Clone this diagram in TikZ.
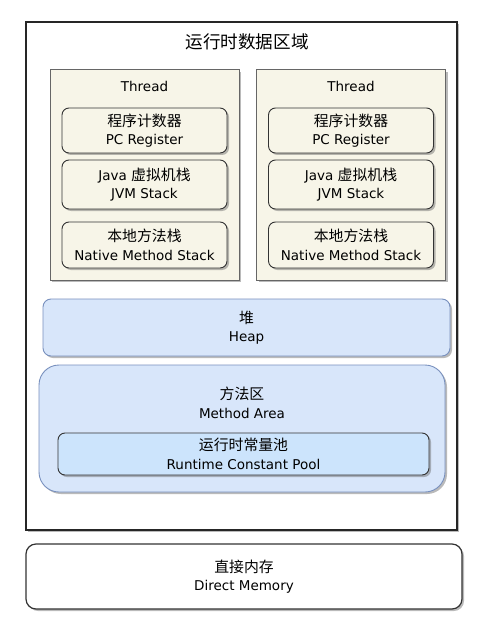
\documentclass[tikz,border=0pt]{standalone}
\usepackage{fontspec}
\setmainfont{DejaVu Sans}
\newfontfamily\cjkfont{Noto Sans CJK SC}[Scale=1.1]
\newcommand\zh[1]{{\cjkfont #1}}
\usetikzlibrary{shadows}

\definecolor{cream}{HTML}{F7F5E8}
\definecolor{heapfill}{HTML}{D8E6FA}
\definecolor{heapline}{HTML}{7890BE}
\definecolor{poolfill}{HTML}{CCE4FC}

\begin{document}
\begin{tikzpicture}[x=1pt, y=-1pt,
    shade/.style={drop shadow={shadow xshift=2pt, shadow yshift=-2pt, opacity=0.45, fill=black!60}},
    area/.style={draw=black!85, line width=1.4pt, fill=white, shade},
    threadbox/.style={draw=black!60, line width=1pt, fill=cream, shade},
    part/.style={draw=black!80, line width=0.9pt, fill=cream, rounded corners=7pt,
                 align=center, font=\fontsize{13.5}{18.5}\selectfont, inner sep=0pt, shade},
    blue/.style={draw=heapline, line width=0.9pt, fill=heapfill, align=center,
                 font=\fontsize{13.5}{18.5}\selectfont, inner sep=0pt, shade},
    label/.style={font=\fontsize{13.5}{18.5}\selectfont, align=center}]
  \useasboundingbox (0,0) rectangle (496,636);

  % runtime data area
  \node[area, minimum width=431pt, minimum height=508pt] (runtime) at (241.5,276) {};
  \node[font=\fontsize{16}{19}\selectfont] (title) at (247,42) {\zh{运行时数据区域}};

  % the two threads
  \foreach \t/\x in {A/144.5, B/351} {
    \node[threadbox, minimum width=189pt, minimum height=210pt] (thread\t) at (\x,175) {};
    \node[label] (name\t) at (\x,86) {Thread};
    \node[part, minimum width=165pt, minimum height=45pt] (pc\t) at (\x,130.5)
      {\zh{程序计数器}\\PC Register};
    \node[part, minimum width=165pt, minimum height=49pt] (jvm\t) at (\x,184.5)
      {Java \zh{虚拟机栈}\\JVM Stack};
    \node[part, minimum width=165pt, minimum height=46pt] (native\t) at (\x,245)
      {\zh{本地方法栈}\\Native Method Stack};
  }

  % heap and method area
  \node[blue, rounded corners=8pt, minimum width=407pt, minimum height=57pt] (heap)
    at (246.5,327.5) {\zh{堆}\\Heap};
  \node[blue, rounded corners=20pt, minimum width=406pt, minimum height=127pt] (method)
    at (242,428.5) {};
  \node[label] (methodtext) at (242,403) {\zh{方法区}\\Method Area};
  \node[part, fill=poolfill, minimum width=371pt, minimum height=42pt] (pool)
    at (243.5,454) {\zh{运行时常量池}\\Runtime Constant Pool};

  % direct memory
  \node[part, fill=white, line width=1.2pt, rounded corners=10pt,
        minimum width=436pt, minimum height=65pt] (direct)
    at (244,576.5) {\zh{直接内存}\\Direct Memory};
\end{tikzpicture}
\end{document}
